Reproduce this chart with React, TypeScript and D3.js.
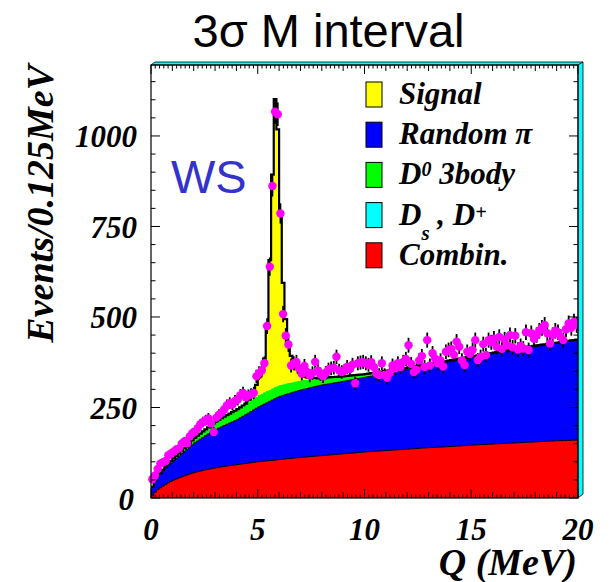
import React from "react";
import * as d3 from "d3";

// ---- data (events per 0.125 MeV bin, Q from 0 to 20 MeV) ----
const dataCounts: number[] = [
  52, 62, 80, 95, 99, 102, 118, 123,
  128, 134, 137, 150, 156, 151, 170, 179,
  183, 193, 204, 210, 215, 220, 206, 182,
  222, 230, 236, 245, 256, 262, 258, 268,
  272, 284, 290, 278, 283, 286, 290, 336,
  345, 352, 372, 475, 639, 862, 1067, 1060,
  786, 508, 448, 424, 366, 372, 376, 358,
  343, 365, 348, 338, 345, 376, 352, 342,
  336, 346, 355, 358, 360, 390, 352, 348,
  352, 362, 356, 368, 317, 372, 374, 376,
  372, 368, 375, 362, 344, 340, 372, 340,
  332, 346, 366, 358, 372, 362, 376, 384,
  422, 370, 348, 354, 380, 392, 362, 436,
  366, 400, 385, 372, 380, 363, 404, 409,
  412, 396, 432, 418, 380, 367, 404, 398,
  409, 436, 381, 390, 425, 395, 436, 430,
  440, 418, 445, 412, 438, 422, 450, 416,
  448, 410, 420, 413, 458, 409, 455, 440,
  450, 462, 470, 478, 455, 427, 450, 462,
  458, 445, 436, 466, 482, 470, 487, 478,
];

// fit components sampled at Q (MeV)
const gridQ = [0, 0.125, 0.25, 0.5, 0.75, 1, 1.5, 2, 2.5, 3, 3.5, 4, 4.5, 5, 6, 7, 8, 9, 10, 11, 12, 13, 14, 15, 16, 17, 18, 19, 20];
const combinVals = [0, 12, 20, 31, 40, 48, 60, 70, 77, 83, 88, 92, 96, 100, 106, 112, 117, 122, 127, 131, 135, 139, 142, 146, 149, 152, 155, 158, 160];
const randomPiVals = [22, 28, 32, 41, 48, 52, 65, 80, 93, 105, 114, 123, 136, 150, 174, 186, 195, 200, 206, 213, 220, 227, 235, 242, 250, 257, 264, 270, 277];
const d0ThreeBodyVals = [0, 0, 1, 2, 4, 6, 9, 13, 17, 21, 25, 28, 31, 33, 32, 27, 20, 14, 9, 7, 5, 4, 3, 3, 2, 2, 2, 1, 1];
const dsDplusVals = [0, 0, 0, 0, 0, 0, 0, 0, 0, 0, 0, 0, 0, 0, 0, 0, 0, 0, 0, 0, 0, 0, 0, 0, 0, 0, 0, 0, 0];
// signal per bin starting at Q = 4.5 MeV
const signalStart = 4.5;
const signalVals = [6, 12, 20, 32, 48, 58, 93, 180, 358, 590, 795, 708, 468, 280, 178, 102, 73, 47, 33, 22, 14, 9, 6, 4, 3, 2];

const xTickVals = [0, 5, 10, 15, 20];
const xTickLabels = ["0", "5", "10", "15", "20"];
const yTickVals = [0, 250, 500, 750, 1000];
const yTickLabels = ["0", "250", "500", "750", "1000"];

const layerKeys = ["combin", "randomPi", "d0", "dsdp", "signal"];
const layerColors: Record<string, string> = {
  combin: "#ff0000",
  randomPi: "#0000ff",
  d0: "#00ff00",
  dsdp: "#00ffff",
  signal: "#ffff00",
};

type Part = { t: string; sup?: boolean; sub?: boolean };
const legendItems: { key: string; parts: Part[] }[] = [
  { key: "signal", parts: [{ t: "Signal" }] },
  { key: "randomPi", parts: [{ t: "Random π" }] },
  { key: "d0", parts: [{ t: "D" }, { t: "0", sup: true }, { t: " 3body" }] },
  { key: "dsdp", parts: [{ t: "D" }, { t: "s", sub: true }, { t: " , D" }, { t: "+", sup: true }] },
  { key: "combin", parts: [{ t: "Combin." }] },
];

const SERIF = "'Liberation Serif', 'Times New Roman', serif";
const SANS = "'Liberation Sans', Arial, sans-serif";

export default function App() {
  const L = 151, R = 578, T = 65, B = 498;
  const x = d3.scaleLinear().domain([0, 20]).range([L, R]);
  const y = d3.scaleLinear().domain([0, 1196]).range([B, T]);
  const bw = 0.125;
  const nb = dataCounts.length;

  const interp = (vals: number[]) => d3.scaleLinear<number>().domain(gridQ).range(vals);
  const fR = interp(combinVals), fB = interp(randomPiVals), fG = interp(d0ThreeBodyVals), fC = interp(dsDplusVals);

  const rows = d3.range(nb).map((i) => {
    const c = (i + 0.5) * bw;
    const k = Math.round((i * bw - signalStart) / bw);
    const sig = k >= 0 && k < signalVals.length ? signalVals[k] : 0;
    return { q: i * bw, combin: fR(c), randomPi: fB(c), d0: fG(c), dsdp: fC(c), signal: sig };
  });
  const series = d3.stack<any>().keys(layerKeys)(rows);

  const stepPts = (s: any) => [
    ...s.map((d: any, i: number) => ({ q: rows[i].q, y0: d[0], y1: d[1] })),
    { q: 20, y0: s[nb - 1][0], y1: s[nb - 1][1] },
  ];
  const area = d3.area<any>().x((d) => x(d.q)).y0((d) => y(d.y0)).y1((d) => y(d.y1)).curve(d3.curveStepAfter);
  const line = d3.line<any>().x((d) => x(d.q)).y((d) => y(d.y1)).curve(d3.curveStepAfter);

  const redTop = stepPts(series[0]);
  const blueTop = stepPts(series[1]);
  const total = [{ q: 0, y1: 0 }, ...stepPts(series[4])];

  // ticks
  const xTicksAll = d3.range(0, 101).map((i) => ({ v: i * 0.2, len: i % 25 === 0 ? 9 : i % 5 === 0 ? 6 : 3.5 }));
  const yTicksAll = d3.range(0, 24).map((i) => ({ v: i * 50, len: i % 5 === 0 ? 9 : 4.5 }));

  return (
    <svg width={613} height={582} style={{ position: "absolute", left: 0, top: 0, background: "#fff" }}>
      <defs>
        <clipPath id="frameClip">
          <rect x={L} y={T} width={R - L} height={B - T} />
        </clipPath>
      </defs>
      <rect x={0} y={0} width={613} height={582} fill="#fff" />

      {/* title */}
      <text x={328.5} y={47} textAnchor="middle" fontFamily={SANS} fontSize={47} fill="#000">
        3σ M interval
      </text>

      {/* stacked histogram */}
      <g clipPath="url(#frameClip)">
        {series.map((s: any, li: number) => (
          <path key={li} d={area(stepPts(s)) || ""} fill={layerColors[layerKeys[li]]} stroke="none" />
        ))}
        <path d={line(redTop) || ""} fill="none" stroke="#000" strokeWidth={1} />
        <path d={line(blueTop) || ""} fill="none" stroke="#000" strokeWidth={1} />
        <path d={line(total) || ""} fill="none" stroke="#000" strokeWidth={2.2} />
      </g>

      {/* data points */}
      <g>
        {dataCounts.map((n, i) => {
          const cx = x((i + 0.5) * bw);
          const e = Math.sqrt(n);
          return <line key={"e" + i} x1={cx} x2={cx} y1={y(n - e)} y2={y(n + e)} stroke="#000" strokeWidth={1.8} />;
        })}
        {dataCounts.map((n, i) => (
          <circle key={"p" + i} cx={x((i + 0.5) * bw)} cy={y(n)} r={4.2} fill="#ff00ff" />
        ))}
      </g>

      {/* frame bevel */}
      <polygon points={`${L},${T} ${L + 4},${T - 3} ${R + 5},${T - 3} ${R},${T}`} fill="#00ffff" stroke="#000" strokeWidth={0.8} />
      <polygon points={`${R},${T} ${R + 5},${T - 3} ${R + 5},${B - 4} ${R},${B}`} fill="#00ffff" stroke="#000" strokeWidth={0.8} />
      <rect x={L} y={T} width={R - L} height={B - T} fill="none" stroke="#000" strokeWidth={1.2} />

      {/* ticks */}
      <g stroke="#000" strokeWidth={1}>
        {xTicksAll.map((t, i) => (
          <g key={"xt" + i}>
            <line x1={x(t.v)} x2={x(t.v)} y1={B} y2={B - t.len} />
            <line x1={x(t.v)} x2={x(t.v)} y1={T} y2={T + t.len} />
          </g>
        ))}
        {yTicksAll.map((t, i) => (
          <g key={"yt" + i}>
            <line x1={L} x2={L + t.len} y1={y(t.v)} y2={y(t.v)} />
            <line x1={R} x2={R - t.len} y1={y(t.v)} y2={y(t.v)} />
          </g>
        ))}
      </g>

      {/* tick labels */}
      <g fontFamily={SERIF} fontWeight="bold" fontStyle="italic" fontSize={31} fill="#000">
        {xTickVals.map((v, i) => (
          <text key={"xl" + i} x={x(v)} y={540} textAnchor="middle">{xTickLabels[i]}</text>
        ))}
        {yTickVals.map((v, i) => (
          <text key={"yl" + i} x={v === 0 ? 134 : 137} y={y(v) + 11.5} textAnchor="end">{yTickLabels[i]}</text>
        ))}
      </g>

      {/* axis titles */}
      <text x={577} y={575} textAnchor="end" fontFamily={SERIF} fontWeight="bold" fontStyle="italic" fontSize={38} fill="#000">
        Q (MeV)
      </text>
      <text transform={`translate(53,${T}) rotate(-90)`} textAnchor="end" fontFamily={SERIF} fontWeight="bold" fontStyle="italic" fontSize={38} fill="#000">
        Events/0.125MeV
      </text>

      {/* WS */}
      <text x={171} y={193} fontFamily={SANS} fontSize={47} fill="#3333cc">WS</text>

      {/* legend */}
      <g fontFamily={SERIF} fontWeight="bold" fontStyle="italic" fontSize={31} fill="#000">
        {legendItems.map((it, i) => {
          const base = 104 + i * 40.2;
          let shift = 0;
          return (
            <g key={it.key}>
              <rect x={366} y={base - 22} width={16} height={25} fill={layerColors[it.key]} stroke="#000" strokeWidth={1} />
              <text x={399} y={base}>
                {it.parts.map((p, j) => {
                  let target = 0;
                  let fs: number | undefined = undefined;
                  if (p.sup) { target = p.t === "+" ? -6 : -8; fs = 20; }
                  if (p.sub) { target = 15; fs = 21; }
                  const dy = target - shift;
                  shift = target;
                  return (
                    <tspan key={j} dy={dy} fontSize={fs}>{p.t}</tspan>
                  );
                })}
              </text>
            </g>
          );
        })}
      </g>
    </svg>
  );
}
